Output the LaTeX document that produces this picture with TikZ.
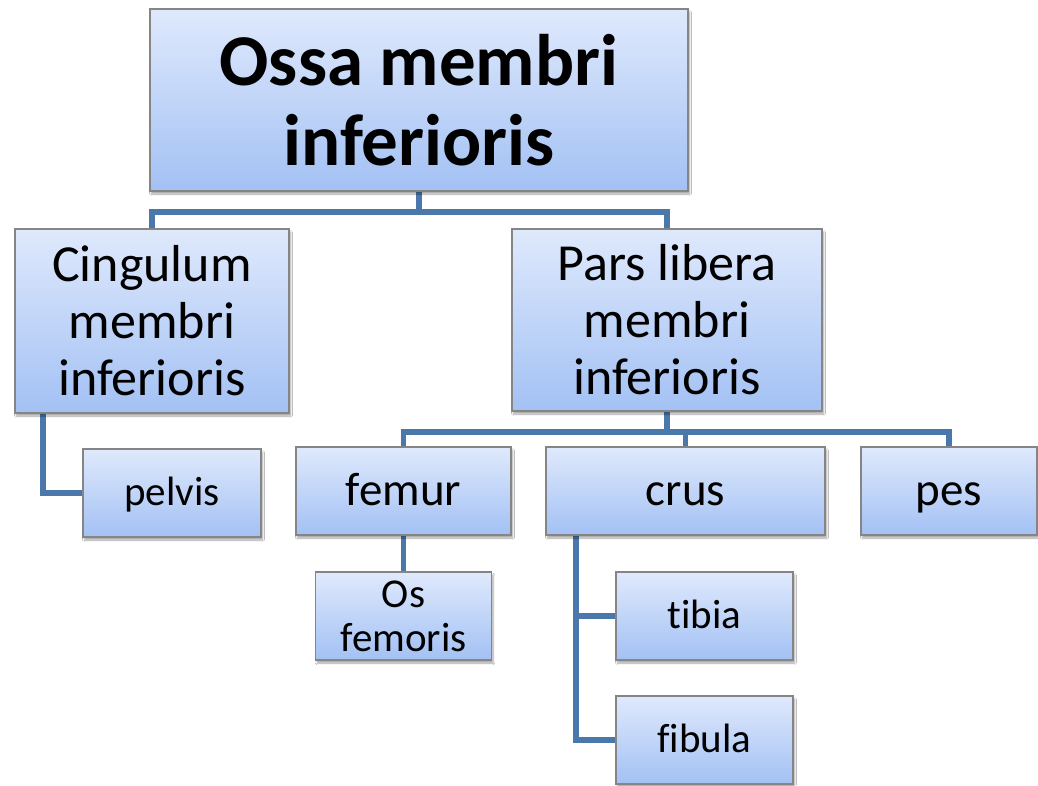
\documentclass[tikz,border=0pt]{standalone}
\usepackage{fontspec}
\setmainfont{Carlito}[Ligatures={NoCommon,NoContextual}]
\usetikzlibrary{shadows.blur,backgrounds}
\definecolor{boxtop}{HTML}{DFE9FC}
\definecolor{boxbot}{HTML}{A3C1F4}
\definecolor{boxline}{HTML}{858585}
\definecolor{conn}{HTML}{4A78AB}
\tikzset{
  box/.style={rectangle, draw=boxline, line width=1.2pt, top color=boxtop, bottom color=boxbot,
    align=center, inner sep=0pt, text=black,
    blur shadow={shadow xshift=1.5pt, shadow yshift=-3pt, shadow blur steps=6, shadow opacity=35}},
  lvlA/.style={box, font=\fontsize{73}{80}\selectfont\bfseries},
  lvlB/.style={box, font=\fontsize{52}{57}\selectfont},
  lvlC/.style={box, font=\fontsize{47}{52}\selectfont, text height=34pt, text depth=6pt},
  lvlD/.style={box, font=\fontsize{41}{44}\selectfont},
  oneD/.style={lvlD, text height=30pt, text depth=6pt},
  link/.style={draw=conn, line width=5.5pt},
}
\begin{document}
\begin{tikzpicture}[x=1pt,y=-1pt]
\useasboundingbox (0,0) rectangle (1038,785);
\node[lvlA, minimum width=538pt, minimum height=182pt] (top) at (419,100) {Ossa membri\\inferioris};
\node[lvlB, minimum width=274pt, minimum height=184pt] (cing) at (152,321) {Cingulum\\membri\\inferioris};
\node[lvlB, minimum width=310pt, minimum height=182pt] (pars) at (667,320) {Pars libera\\membri\\inferioris};
\node[oneD, minimum width=178pt, minimum height=88pt] (pelvis) at (172,493) {pelvis};
\node[lvlC, minimum width=215pt, minimum height=88pt] (femur) at (403.5,491) {femur};
\node[lvlC, minimum width=279pt, minimum height=88pt] (crus) at (685.5,491) {crus};
\node[lvlC, minimum width=176pt, minimum height=88pt] (pes) at (949,491) {pes};
\node[lvlD, minimum width=176pt, minimum height=88pt] (osfem) at (403.5,616) {Os\\femoris};
\node[oneD, minimum width=177pt, minimum height=88pt] (tibia) at (704.5,616) {tibia};
\node[oneD, minimum width=177pt, minimum height=88pt] (fibula) at (704.5,740) {fibula};
\coordinate (j1) at (419,212);
\coordinate (j2) at (667,432);
\coordinate (c1) at (43,413);
\coordinate (c2) at (576,535);
\begin{scope}[on background layer]
\fill[white] (0,0) rectangle (1038,785);
\draw[link] (top.south) -- (j1);
\draw[link] (cing.north) |- (j1) -| (pars.north);
\draw[link] (pars.south) -- (j2);
\draw[link] (femur.north) |- (j2) -| (pes.north);
\draw[link] (j2) -| (crus.north);
\draw[link] (c1) |- (pelvis.west);
\draw[link] (femur.south) -- (osfem.north);
\draw[link] (c2) |- (tibia.west);
\draw[link] (c2) |- (fibula.west);
\end{scope}
\end{tikzpicture}
\end{document}
